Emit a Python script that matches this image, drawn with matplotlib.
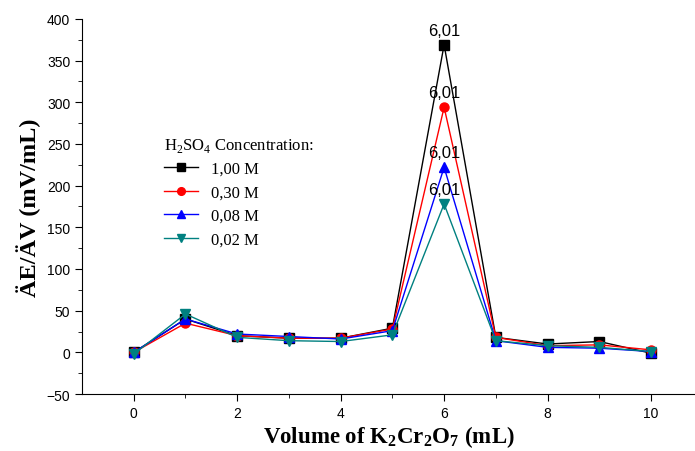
import numpy as np
import matplotlib
matplotlib.use("Agg")
import matplotlib.pyplot as plt

# volume of K2Cr2O7 (mL)
vol = [0, 1, 2, 3, 4, 5, 6, 7, 8, 9, 10]
# dE/dV for each H2SO4 concentration
c100 = [0, 40, 20, 17, 17, 29, 369, 18, 10, 13, -1]
c030 = [0, 35, 20, 17, 17, 28, 294, 18, 8, 9, 3]
c008 = [0, 40, 22, 19, 16, 26, 222, 14, 6, 5, 1]
c002 = [-2, 46, 18, 14, 13, 21, 178, 14, 8, 6, 1]
labels = ["1,00 M", "0,30 M", "0,08 M", "0,02 M"]
peak_label = "6,01"

series = [c100, c030, c008, c002]
colors = ["black", "red", "blue", "#008080"]
markers = ["s", "o", "^", "v"]

plt.rcParams["mathtext.fontset"] = "custom"
plt.rcParams["mathtext.rm"] = "Liberation Serif"
plt.rcParams["mathtext.bf"] = "Liberation Serif:bold"

fig = plt.figure(figsize=(6.95, 4.52), dpi=100)
ax = fig.add_axes([0.118, 0.126, 0.882, 0.83])

for y, c, m, lab in zip(series, colors, markers, labels):
    ax.plot(vol, y, color=c, marker=m, markersize=6.5, lw=1, label=lab)
    i = int(np.argmax(y))
    ax.annotate(peak_label, (vol[i], y[i]), xytext=(0, 5), textcoords="offset points",
                ha="center", va="bottom", fontsize=12, family="Liberation Sans")

ax.set_xlim(-1, 10.85)
ax.set_ylim(-50, 400)
ax.set_xticks(range(0, 11, 2))
ax.set_xticks(range(1, 11, 2), minor=True)
ax.set_yticks(range(-50, 401, 50))
ax.set_yticks(range(-25, 400, 50), minor=True)
ax.spines["top"].set_visible(False)
ax.spines["right"].set_visible(False)
ax.tick_params(which="both", direction="out", labelsize=10)
ax.tick_params(which="major", length=5)
ax.tick_params(which="minor", length=3)
for t in ax.get_xticklabels() + ax.get_yticklabels():
    t.set_family("Liberation Sans")

ax.set_xlabel(r"Volume of K$_\mathbf{2}$Cr$_\mathbf{2}$O$_\mathbf{7}$ (mL)", family="Liberation Serif",
              fontweight="bold", fontsize=16.5, labelpad=2)
ax.set_ylabel("ÄE/ÄV (mV/mL)", family="Liberation Serif", fontweight="bold", fontsize=17.5)

leg = ax.legend(loc="upper left", bbox_to_anchor=(0.115, 0.72), frameon=False,
                title=r"H$_2$SO$_4$ Concentration:", alignment="left",
                prop={"family": "Liberation Serif", "size": 12},
                handlelength=2.0, labelspacing=0.45, borderpad=0.2, markerscale=0.85)
leg.get_title().set_family("Liberation Serif")
leg.get_title().set_fontsize(12)

fig.savefig("out.png", dpi=100)
